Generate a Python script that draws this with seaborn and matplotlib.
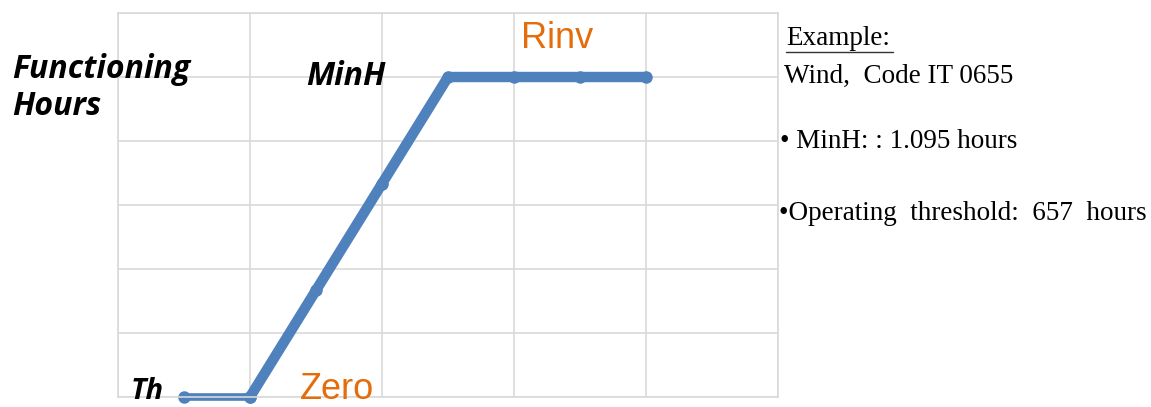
import matplotlib
matplotlib.use("Agg")
import matplotlib.pyplot as plt
import seaborn as sns
import pandas as pd

# data (x in grid units, y in grid units)
th_x = [0.5, 1.0]
th_y = [0.0, 0.0]
ramp_x = [1.0, 1.5, 2.0, 2.5, 3.0, 3.5, 4.0]
ramp_y = [0.0, 1.667, 3.333, 5.0, 5.0, 5.0, 5.0]

notes = ["Wind,  Code IT 0655", "\u2022 MinH: : 1.095 hours", "\u2022Operating  threshold:  657  hours"]

blue = "#4F81BD"
orange = "#E46C0A"
W, H = 1151, 407

def fx(px):
    return px / W

def fy(py):
    return 1 - py / H

sns.set_style("white")
fig = plt.figure(figsize=(11.51, 4.07), dpi=100)
ax = fig.add_axes([fx(118), fy(397), 660 / W, 384 / H])

df_th = pd.DataFrame({"x": th_x, "y": th_y})
df_ramp = pd.DataFrame({"x": ramp_x, "y": ramp_y})
sns.lineplot(data=df_th, x="x", y="y", ax=ax, color=blue, linewidth=5.5,
             marker="o", markersize=9, markeredgewidth=0, clip_on=False)
sns.lineplot(data=df_ramp, x="x", y="y", ax=ax, color=blue, linewidth=7.5,
             marker="o", markersize=9, markeredgewidth=0, clip_on=False)

ax.set_xlim(0, 5)
ax.set_ylim(0, 6)
ax.set_xticks(range(6))
ax.set_yticks(range(7))
ax.grid(True, color="#D9D9D9", linewidth=1.2)
ax.set_axisbelow(True)
ax.tick_params(length=0, labelbottom=False, labelleft=False)
ax.set_xlabel("")
ax.set_ylabel("")
for s in ax.spines.values():
    s.set_color("#D9D9D9")
    s.set_linewidth(1.2)

bi = dict(family=["Open Sans", "DejaVu Sans"], weight="bold", style="italic",
          color="black", va="baseline")
fig.text(fx(12), fy(78), "Functioning", ha="left", fontsize=23, **bi)
fig.text(fx(12), fy(115), "Hours", ha="left", fontsize=23, **bi)
fig.text(fx(346), fy(85), "MinH", ha="center", fontsize=23, **bi)
fig.text(fx(147), fy(399), "Th", ha="center", fontsize=21, **bi)

lab = dict(family=["Liberation Sans", "DejaVu Sans"], color=orange, fontsize=26, va="baseline", ha="center")
fig.text(fx(337), fy(399), "Zero", **lab)
fig.text(fx(557), fy(48), "Rinv", **lab)

serif = dict(family=["Liberation Serif", "DejaVu Serif"], color="black", fontsize=19.5,
             ha="left", va="baseline")
fig.text(fx(786), fy(45), "Example:", **serif)
fig.add_artist(plt.Line2D([fx(786), fx(893)], [fy(52), fy(52)], color="#333333", linewidth=1))
for txt, xpx, ypx in zip(notes, [784, 780, 779], [83, 148, 220]):
    fig.text(fx(xpx), fy(ypx), txt, **serif)

fig.savefig("out.png", dpi=100)
